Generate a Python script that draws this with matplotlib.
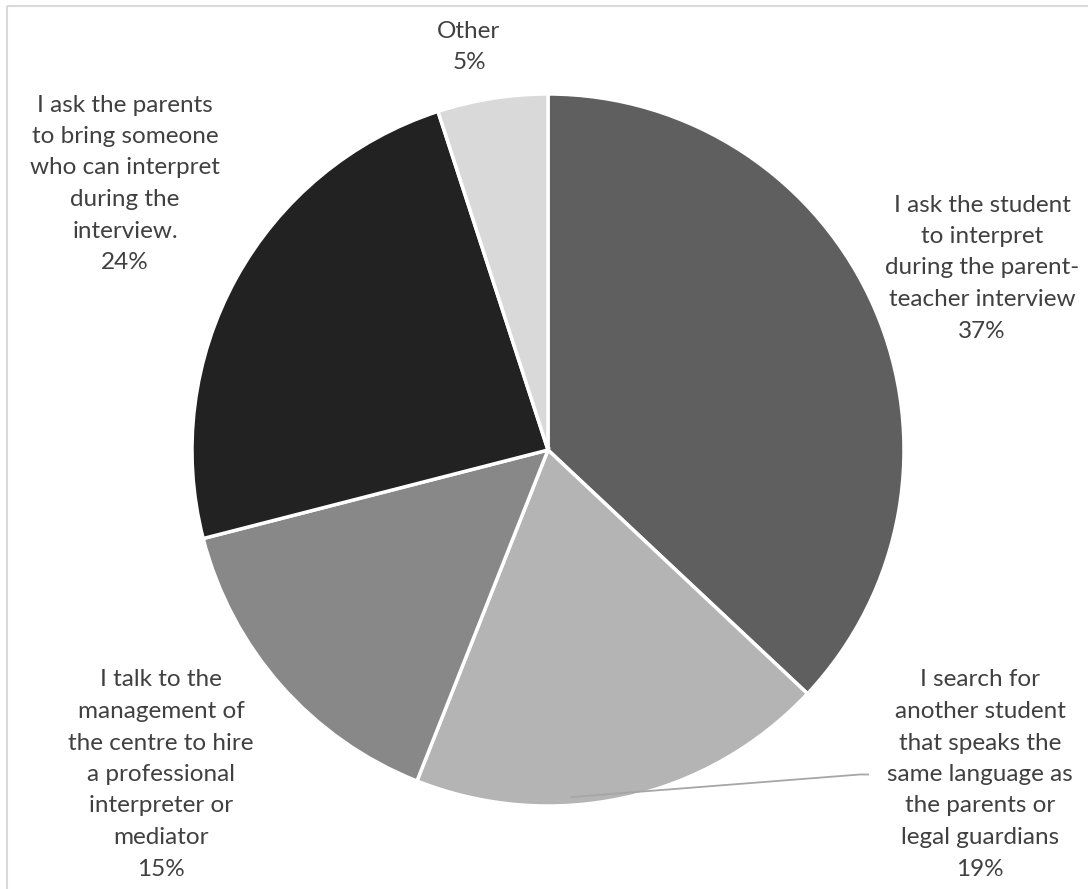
import matplotlib
matplotlib.use("Agg")
import matplotlib.pyplot as plt
import numpy as np

plt.rcParams['font.family'] = ['Lato', 'DejaVu Sans']

# ---- data ----
categories = [
    "I ask the student\nto interpret\nduring the parent-\nteacher interview",
    "I search for\nanother student\nthat speaks the\nsame language as\nthe parents or\nlegal guardians",
    "I talk to the\nmanagement of\nthe centre to hire\na professional\ninterpreter or\nmediator",
    "I ask the parents\nto bring someone\nwho can interpret\nduring the\ninterview.",
    "Other",
]
values = [37, 19, 15, 24, 5]
colors = ["#5f5f5f", "#b4b4b4", "#888888", "#222222", "#d9d9d9"]

W, H = 1088, 889
fig = plt.figure(figsize=(W / 100, H / 100), dpi=100)
ax = fig.add_axes([0, 0, 1, 1])

def py(y):
    return H - y

cx, cy, r = 548, 450, 356
ax.pie(values, colors=colors, startangle=90, counterclock=False,
       center=(cx, py(cy)), radius=r, frame=False,
       wedgeprops=dict(edgecolor='white', linewidth=2.5))
ax.set_xlim(0, W)
ax.set_ylim(0, H)
ax.set_aspect('equal')
ax.axis('off')

# frame
ax.plot([7, 7], [py(6), py(H + 5)], color="#d9d9d9", lw=1.5, solid_capstyle='butt')
ax.plot([7, W + 5], [py(6), py(6)], color="#d9d9d9", lw=1.5, solid_capstyle='butt')

# labels: (x center, first line y) in pixels
label_pos = [(982, 205), (980, 680), (161, 680), (125, 105), (469, 31)]
spacing = 31.5
txtcolor = "#404040"
for cat, v, (lx, ly) in zip(categories, values, label_pos):
    lines = cat.split("\n") + [f"{v}%"]
    for i, line in enumerate(lines):
        ax.text(lx, py(ly + i * spacing), line, ha='center', va='center',
                fontsize=17.5, color=txtcolor)

# leader line for the 19% slice
sx, sy = 572, 797
ex, ey = 860, 680 + 3 * spacing
ax.plot([sx, ex, ex + 8], [py(sy), py(ey), py(ey)], color="#a6a6a6", lw=1.3)

fig.savefig("out.png", dpi=100)
